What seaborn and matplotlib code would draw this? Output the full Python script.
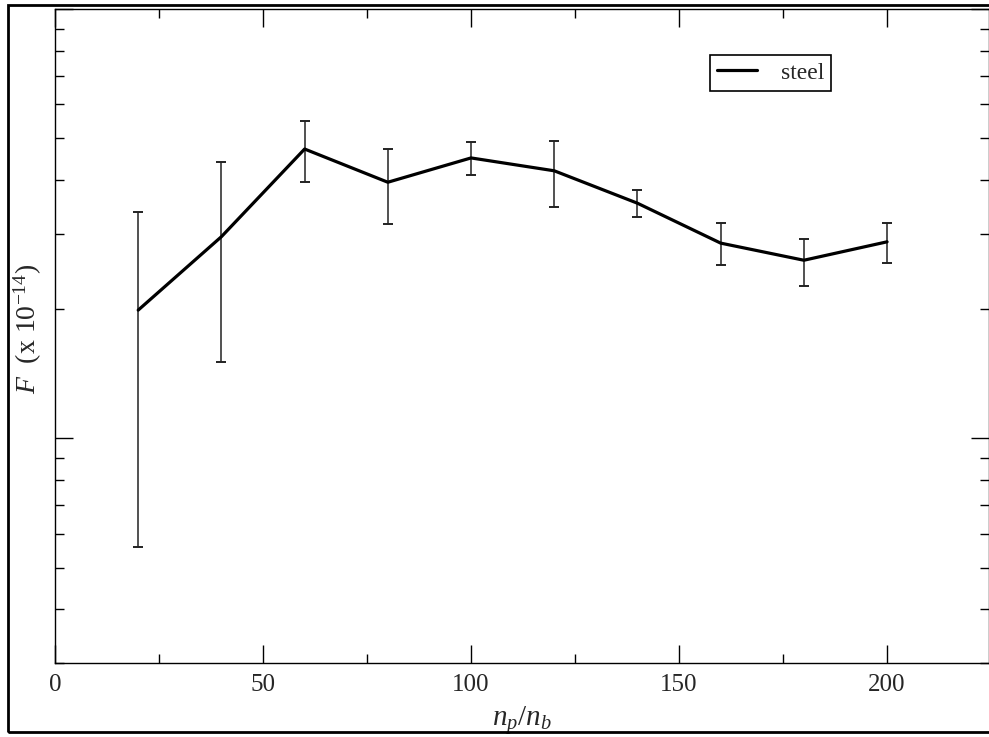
import numpy as np
import pandas as pd
import matplotlib
matplotlib.use("Agg")
import matplotlib.pyplot as plt
from matplotlib.patches import Rectangle
from matplotlib.ticker import LogLocator, NullFormatter, MultipleLocator
import seaborn as sns

# ---- data (F in units of 1e-14) ----
np_nb = [20, 40, 60, 80, 100, 120, 140, 160, 180, 200]
F_steel = [1.99, 2.95, 4.72, 3.95, 4.50, 4.20, 3.53, 2.85, 2.60, 2.87]
F_upper = [3.37, 4.40, 5.50, 4.73, 4.90, 4.94, 3.79, 3.17, 2.92, 3.18]
F_lower = [0.56, 1.51, 3.96, 3.15, 4.11, 3.45, 3.27, 2.535, 2.26, 2.56]
x_ticks = [0, 50, 100, 150, 200]
series_name = "steel"

sns.set_theme(style="ticks")
plt.rcParams["font.family"] = ["Liberation Serif", "DejaVu Serif"]
plt.rcParams["mathtext.fontset"] = "custom"
plt.rcParams["mathtext.rm"] = "Liberation Serif"
plt.rcParams["mathtext.it"] = "Liberation Serif:italic"

df = pd.DataFrame({"x": np_nb, "F": F_steel, "series": series_name})

fig = plt.figure(figsize=(9.89, 7.37), dpi=100)
ax = fig.add_axes([55 / 989, (737 - 663) / 737, (989 - 55) / 989, (663 - 9) / 737])
ax.set_yscale("log")

yerr = [np.array(F_steel) - np.array(F_lower), np.array(F_upper) - np.array(F_steel)]
ax.errorbar(np_nb, F_steel, yerr=yerr, fmt="none", ecolor="#222222",
            elinewidth=1.1, capsize=3.3, capthick=1.4, zorder=2)
sns.lineplot(data=df, x="x", y="F", hue="series", palette=["black"],
             linewidth=2.3, ax=ax, zorder=3)

ax.set_xlim(0, 224.5)
ax.set_ylim(0.3, 10)
ax.set_xticks(x_ticks)
ax.set_xticklabels([str(t) for t in x_ticks])
ax.xaxis.set_minor_locator(MultipleLocator(25))
ax.yaxis.set_major_locator(LogLocator(base=10))
ax.yaxis.set_minor_locator(LogLocator(base=10, subs=np.arange(2, 10)))
ax.yaxis.set_major_formatter(NullFormatter())
ax.yaxis.set_minor_formatter(NullFormatter())

ax.tick_params(which="both", direction="in", top=True, right=True,
               bottom=True, left=True, color="black", width=1.0)
ax.tick_params(which="major", length=13, labelsize=18, pad=8)
ax.tick_params(which="minor", length=6.5)
for s in ax.spines.values():
    s.set_visible(True)
    s.set_color("black")
    s.set_linewidth(1.0)

ax.set_xlabel(r"$n_p/n_b$", fontsize=21)
ax.xaxis.set_label_coords(0.5, -0.062)
ax.set_ylabel(r"$F$  (x 10$^{-14}$)", fontsize=20)
ax.yaxis.set_label_coords(-0.012, 0.51)

leg = ax.legend(loc="upper left", bbox_to_anchor=((710 - 55) / 934, (663 - 55) / 654),
                fontsize=17, frameon=True, fancybox=False, edgecolor="black",
                handlelength=1.7, handletextpad=1.0, borderpad=0.3,
                borderaxespad=0)
leg.get_frame().set_linewidth(1.2)
leg.get_frame().set_facecolor("white")
leg.get_frame().set_alpha(1)

# outer border of the picture
fig.patches.append(Rectangle((8 / 989, (737 - 732) / 737), (989 - 8) / 989 + 0.01,
                             (732 - 5) / 737, transform=fig.transFigure,
                             fill=False, edgecolor="black", linewidth=2.0,
                             clip_on=False))

fig.savefig("out.png", dpi=100, facecolor="white")
